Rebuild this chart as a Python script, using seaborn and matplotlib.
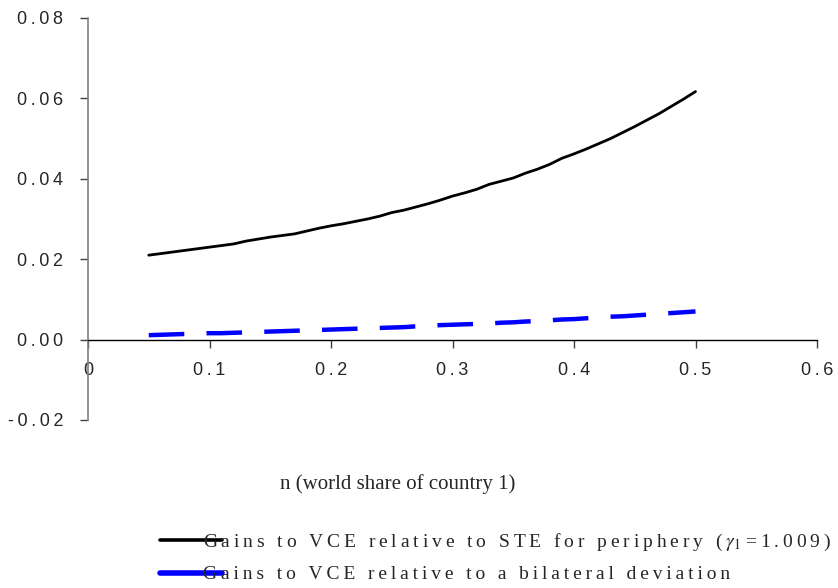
import numpy as np
import pandas as pd
import matplotlib
matplotlib.use("Agg")
import matplotlib.pyplot as plt
from matplotlib.lines import Line2D
import seaborn as sns

# world share of country 1
n_share = [0.05, 0.06, 0.07, 0.08, 0.09, 0.10, 0.11, 0.12, 0.13, 0.14,
           0.15, 0.16, 0.17, 0.18, 0.19, 0.20, 0.21, 0.22, 0.23, 0.24,
           0.25, 0.26, 0.27, 0.28, 0.29, 0.30, 0.31, 0.32, 0.33, 0.34,
           0.35, 0.36, 0.37, 0.38, 0.39, 0.40, 0.41, 0.42, 0.43, 0.44,
           0.45, 0.46, 0.47, 0.48, 0.49, 0.50]

gains_ste = [0.0210, 0.0214, 0.0218, 0.0222, 0.0226, 0.0230, 0.0234, 0.0238, 0.0245, 0.0250,
             0.0255, 0.0259, 0.0263, 0.0270, 0.0277, 0.0283, 0.0288, 0.0294, 0.0300, 0.0307,
             0.0316, 0.0322, 0.0330, 0.0338, 0.0347, 0.0357, 0.0365, 0.0374, 0.0386, 0.0394,
             0.0402, 0.0414, 0.0424, 0.0436, 0.0451, 0.0462, 0.0474, 0.0487, 0.0500, 0.0515,
             0.0530, 0.0546, 0.0562, 0.0580, 0.0598, 0.0617]

gains_bilateral = [0.0011, 0.0012, 0.0013, 0.0014, 0.0015, 0.0016, 0.0016, 0.0017, 0.0018, 0.0019,
                   0.0020, 0.0021, 0.0022, 0.0023, 0.0024, 0.0025, 0.0026, 0.0027, 0.0028, 0.0029,
                   0.0030, 0.0031, 0.0033, 0.0034, 0.0036, 0.0037, 0.0038, 0.0039, 0.0040, 0.0042,
                   0.0043, 0.0045, 0.0046, 0.0048, 0.0050, 0.0051, 0.0053, 0.0055, 0.0057, 0.0058,
                   0.0060, 0.0062, 0.0064, 0.0066, 0.0068, 0.0070]

x_ticks = [0, 0.1, 0.2, 0.3, 0.4, 0.5, 0.6]
x_tick_labels = ["0", "0.1", "0.2", "0.3", "0.4", "0.5", "0.6"]
y_ticks = [-0.02, 0.00, 0.02, 0.04, 0.06, 0.08]
y_tick_labels = ["-0.02", "0.00", "0.02", "0.04", "0.06", "0.08"]

THIN = "\u2009"


def spaced(s):
    # old office charts draw text with wide letter spacing
    return THIN.join(s)


label_ste = (spaced("Gains to VCE relative to STE for periphery (") + THIN
             + r"$\gamma_1$" + THIN + spaced("=1.009)"))
label_bil = spaced("Gains to VCE relative to a bilateral deviation")

sns.set_style("white")
plt.rcParams['mathtext.fontset'] = 'stix'

df = pd.DataFrame({'n': n_share, 'ste': gains_ste, 'bil': gains_bilateral})

fig = plt.figure(figsize=(8.38, 5.88), dpi=100)
ax = fig.add_axes([88 / 838, 1 - 420 / 588, 729 / 838, 402 / 588])

sns.lineplot(data=df, x='n', y='ste', ax=ax, color='black', linewidth=2.0)
sns.lineplot(data=df, x='n', y='bil', ax=ax, color='#0000FF', linewidth=3.2, dashes=False)
ax.lines[1].set_dashes([8, 5])

ax.set_xlim(0, 0.6)
ax.set_ylim(-0.02, 0.08)

ax.spines['top'].set_visible(False)
ax.spines['right'].set_visible(False)
ax.spines['bottom'].set_position(('data', 0))
ax.spines['bottom'].set_color('black')
ax.spines['bottom'].set_linewidth(1.0)
ax.spines['left'].set_color('#808080')
ax.spines['left'].set_linewidth(1.2)

ax.set_xticks(x_ticks)
ax.set_xticklabels([spaced(t) for t in x_tick_labels], family='Liberation Sans', fontsize=13)
ax.set_yticks(y_ticks)
ax.set_yticklabels([spaced(t) for t in y_tick_labels], family='Liberation Sans', fontsize=13)
ax.tick_params(axis='x', direction='out', length=6, width=1, color='#404040', pad=10, bottom=True)
ax.tick_params(axis='y', direction='out', length=6, width=1, color='#404040', pad=12, left=True)

ax.set_xlabel("n (world share of country 1)", family='Liberation Serif', fontsize=15)
ax.xaxis.set_label_coords(0.425, -0.135)
ax.set_ylabel("")

# legend keys as in the original: solid black, solid blue bar
handles = [Line2D([], [], color='black', linewidth=2.6),
           Line2D([], [], color='#0000FF', linewidth=4.0)]
fig.legend(handles, [label_ste, label_bil], loc='upper left',
           bbox_to_anchor=(160 / 838, 1 - 532 / 588),
           frameon=False, prop={'family': 'Liberation Serif', 'size': 14},
           handlelength=3.2, handletextpad=-1.0, labelspacing=0.65, borderaxespad=0,
           borderpad=0)

fig.savefig("out.png", dpi=100)
